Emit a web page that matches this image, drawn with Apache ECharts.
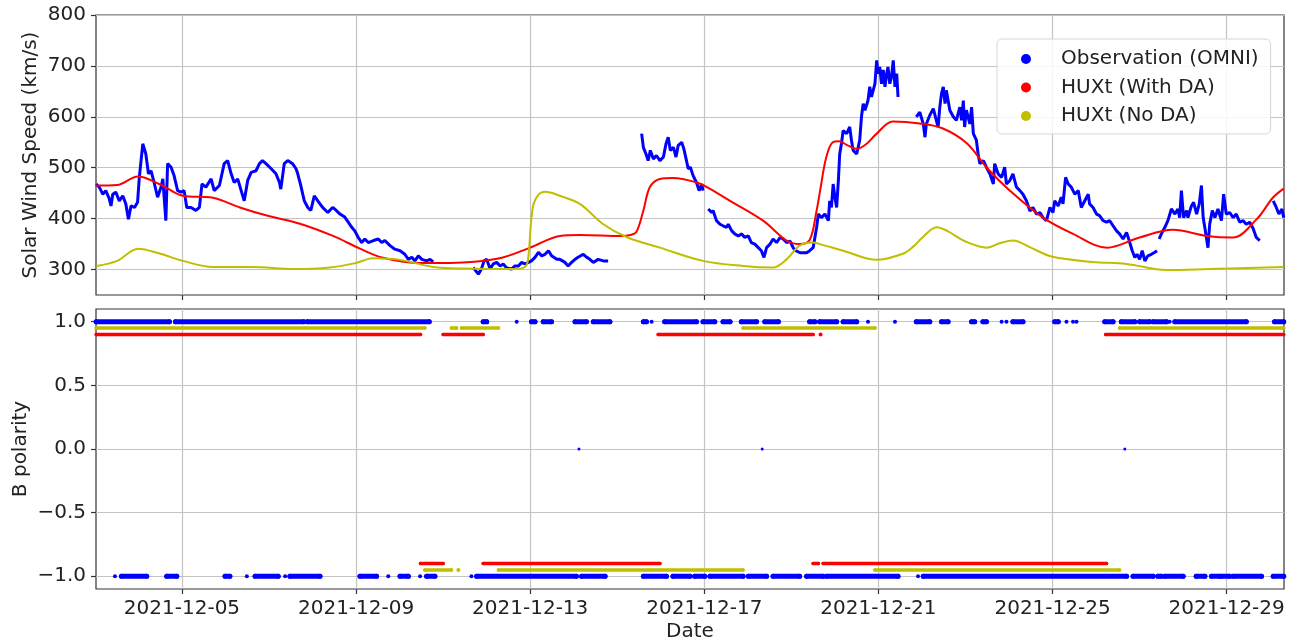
<!DOCTYPE html>
<html><head><meta charset="utf-8">
<script src="https://cdn.jsdelivr.net/npm/echarts@6/dist/echarts.min.js"></script>
<style>html,body{margin:0;padding:0;background:#fff}#c{width:1296px;height:643px}</style>
</head><body><div id="c"></div>
<script>
// x values are fractional days of December 2021
const dateTicks = ['2021-12-05','2021-12-09','2021-12-13','2021-12-17','2021-12-21','2021-12-25','2021-12-29'];
const speedTicks = [300,400,500,600,700,800];
const polarityTicks = [-1,-0.5,0,0.5,1];
const seriesNames = ['Observation (OMNI)','HUXt (With DA)','HUXt (No DA)'];

// [day, km/s]; null marks a data gap
const omniSpeed = [
[3.03,468],[3.10,462],[3.18,448],[3.25,455],[3.33,439],[3.37,425],[3.41,448],[3.48,452],[3.56,435],[3.64,445],[3.71,429],[3.77,399],[3.83,425],[3.91,422],[3.98,432],
[4.02,481],[4.10,547],[4.17,527],[4.23,488],[4.29,494],[4.36,471],[4.44,442],[4.52,462],[4.56,478],[4.59,442],[4.63,396],[4.67,508],[4.75,501],[4.82,484],[4.90,455],[4.98,452],
[5.05,455],[5.11,422],[5.21,422],[5.32,416],[5.40,422],[5.46,468],[5.55,462],[5.67,478],[5.74,455],[5.86,465],[5.97,508],
[6.05,514],[6.13,488],[6.20,471],[6.28,478],[6.36,455],[6.43,435],[6.51,475],[6.59,491],[6.70,494],[6.78,508],[6.85,514],[6.93,508],
[7.05,498],[7.16,488],[7.24,471],[7.27,458],[7.35,508],[7.43,514],[7.54,508],[7.62,498],[7.66,488],[7.73,465],[7.81,435],[7.89,422],[7.96,416],
[8.04,445],[8.12,435],[8.23,422],[8.35,412],[8.46,422],[8.51,419],[8.63,409],[8.74,403],[8.82,393],[8.90,383],[8.97,376],
[9.05,363],[9.13,353],[9.20,360],[9.28,353],[9.40,357],[9.51,360],[9.59,353],[9.66,357],[9.78,347],[9.89,340],
[10.01,337],[10.12,330],[10.20,320],[10.28,324],[10.35,317],[10.43,327],[10.51,320],[10.62,317],[10.70,320],[10.77,315],
[11.2,null],
[11.69,304],[11.81,291],[11.88,301],[11.94,317],[12.00,320],[12.08,301],[12.15,311],[12.23,314],[12.31,307],[12.38,311],[12.46,303],[12.57,301],[12.65,307],[12.73,307],[12.80,314],[12.88,311],[12.96,314],[13.03,317],[13.11,324],[13.19,334],[13.26,327],[13.34,330],[13.42,337],[13.49,327],[13.61,320],[13.68,320],[13.80,314],[13.87,307],[13.95,314],[14.03,320],[14.10,324],[14.22,330],[14.30,324],[14.37,320],[14.45,314],[14.56,320],[14.68,317],[14.79,317],
[15.2,null],
[15.56,567],[15.60,540],[15.66,527],[15.71,514],[15.76,534],[15.83,517],[15.90,524],[15.98,514],[16.06,521],[16.12,547],[16.17,560],[16.22,534],[16.29,540],[16.35,521],[16.40,544],[16.48,550],[16.53,537],[16.59,514],[16.63,498],[16.68,501],[16.74,485],[16.82,471],[16.88,455],[16.94,468],[16.97,455],
[17.03,null],
[17.09,419],[17.17,412],[17.20,416],[17.28,396],[17.36,389],[17.43,386],[17.51,383],[17.55,389],[17.63,376],[17.70,370],[17.78,366],[17.86,370],[17.93,363],[18.01,366],[18.08,353],[18.16,350],[18.24,343],[18.31,337],[18.37,324],[18.43,343],[18.51,350],[18.58,360],[18.66,353],[18.74,363],[18.81,360],[18.89,353],[18.97,356],[19.04,343],[19.10,337],[19.20,333],[19.35,333],[19.42,337],[19.50,343],[19.58,383],[19.62,409],[19.69,402],[19.77,409],[19.85,396],[19.88,435],[19.92,422],[19.96,468],[20.00,442],[20.04,422],[20.08,475],[20.11,527],[20.15,547],[20.19,573],[20.27,567],[20.34,580],[20.38,554],[20.42,534],[20.50,527],[20.57,554],[20.61,600],[20.65,626],[20.69,613],[20.76,632],[20.80,659],[20.84,639],[20.92,665],[20.96,711],[20.99,685],[21.03,698],[21.07,665],[21.11,692],[21.15,659],[21.19,685],[21.22,698],[21.26,665],[21.30,678],[21.34,711],[21.38,659],[21.42,685],[21.45,639],
[21.6,null],
[21.87,600],[21.95,609],[22.03,586],[22.07,560],[22.10,586],[22.18,603],[22.26,616],[22.33,593],[22.37,580],[22.41,619],[22.45,646],[22.49,659],[22.53,626],[22.56,652],[22.64,613],[22.72,600],[22.79,593],[22.87,619],[22.91,593],[22.95,632],[22.98,580],[23.02,613],[23.10,586],[23.14,619],[23.18,567],[23.25,554],[23.29,527],[23.33,508],[23.41,514],[23.48,501],[23.56,488],[23.64,468],[23.67,508],[23.75,488],[23.83,481],[23.90,501],[23.94,468],[24.02,475],[24.09,488],[24.17,462],[24.25,455],[24.32,448],[24.40,435],[24.48,415],[24.55,422],[24.63,409],[24.71,412],[24.78,402],[24.86,396],[24.94,422],[25.01,412],[25.05,435],[25.13,425],[25.20,442],[25.24,429],[25.30,481],[25.36,468],[25.43,462],[25.51,448],[25.59,455],[25.66,422],[25.74,435],[25.82,448],[25.85,429],[25.93,422],[26.01,409],[26.08,406],[26.16,396],[26.24,393],[26.31,396],[26.39,386],[26.47,376],[26.54,370],[26.62,360],[26.70,373],[26.76,357],[26.83,337],[26.89,324],[26.94,330],[27.00,320],[27.06,337],[27.12,317],[27.19,327],[27.27,330],[27.35,334],[27.40,337],
[27.42,null],
[27.45,360],[27.50,370],[27.58,383],[27.65,396],[27.73,419],[27.81,409],[27.88,419],[27.92,402],[27.96,455],[28.01,402],[28.08,416],[28.11,402],[28.19,425],[28.24,432],[28.31,409],[28.37,429],[28.42,465],[28.46,402],[28.51,376],[28.57,343],[28.61,389],[28.67,416],[28.73,402],[28.80,419],[28.88,396],[28.93,448],[28.99,409],[29.07,412],[29.15,402],[29.22,409],[29.30,393],[29.38,396],[29.45,389],[29.53,393],[29.61,380],[29.68,363],[29.76,357],
[29.9,null],
[30.07,435],[30.14,422],[30.20,409],[30.27,419],[30.31,402]
];

const withDaSpeed = [
[3.03,465],[3.51,466],[3.99,483],[4.50,467],[5.02,445],[5.71,441],[6.33,422],[6.95,406],[7.71,390],[8.47,366],[9.09,341],[9.62,323],[10.40,313],[11.16,313],[12.24,321],[13.00,343],[13.68,366],[14.15,368],[15.10,366],[15.30,368],[15.44,374],[15.60,416],[15.75,462],[15.98,478],[16.28,480],[16.83,471],[17.10,460],[17.59,435],[18.35,396],[18.89,357],[19.19,350],[19.42,358],[19.58,416],[19.66,455],[19.80,520],[19.95,550],[20.10,552],[20.27,545],[20.50,537],[20.70,545],[20.96,567],[21.33,591],[21.95,587],[22.48,577],[23.03,548],[23.49,500],[24.02,455],[24.78,402],[25.47,370],[26.25,343],[27.00,363],[27.76,378],[28.54,366],[29.14,363],[29.69,399],[30.06,441],[30.31,459]
];

const noDaSpeed = [
[3.03,307],[3.51,317],[3.99,341],[4.50,331],[5.02,317],[5.71,305],[6.63,305],[7.55,301],[8.40,304],[9.00,313],[9.39,322],[10.01,319],[10.77,305],[11.50,302],[12.61,301],[12.88,305],[12.95,320],[13.06,422],[13.20,448],[13.35,453],[13.68,445],[14.14,429],[14.68,389],[15.21,364],[15.98,343],[16.97,317],[17.89,307],[18.58,304],[18.89,320],[19.19,347],[19.50,353],[19.65,350],[20.19,337],[20.96,319],[21.56,331],[21.80,345],[22.00,362],[22.34,383],[22.60,375],[23.00,355],[23.49,343],[23.80,352],[24.09,357],[24.50,343],[25.00,325],[25.92,315],[26.70,311],[27.62,299],[28.61,301],[30.31,305]
];

// polarity runs: [startDay, endDay, polarity]
const omniPolarity = [
[3.03,4.71,1],[4.85,7.80,1],[7.88,10.68,1],[11.92,12.00,1],[12.69,12.69,1],[13.03,13.11,1],[13.30,13.49,1],[14.03,14.29,1],[14.45,14.83,1],[15.60,15.67,1],[15.79,15.79,1],[16.09,16.82,1],[16.97,17.24,1],[17.43,17.59,1],[17.85,18.20,1],[18.39,18.70,1],[19.42,19.54,1],[19.65,20.04,1],[20.19,20.50,1],[20.76,20.76,1],[21.38,21.38,1],[21.87,22.18,1],[22.45,22.60,1],[23.14,23.21,1],[23.40,23.48,1],[23.83,23.83,1],[23.94,23.94,1],[24.09,24.32,1],[25.05,25.13,1],[25.32,25.32,1],[25.47,25.47,1],[25.55,25.55,1],[26.20,26.39,1],[26.58,26.89,1],[27.00,27.23,1],[27.31,27.62,1],[27.69,27.69,1],[27.81,29.45,1],[30.10,30.31,1],
[14.12,14.12,0],[18.33,18.33,0],[26.66,26.66,0],
[3.46,3.46,-1],[3.61,4.19,-1],[4.65,4.88,-1],[5.99,6.10,-1],[6.49,6.49,-1],[6.68,7.21,-1],[7.37,7.37,-1],[7.48,8.17,-1],[9.09,9.47,-1],[9.74,9.74,-1],[10.01,10.20,-1],[10.47,10.47,-1],[10.62,10.81,-1],[11.65,11.65,-1],[11.77,14.06,-1],[14.18,14.72,-1],[15.60,16.13,-1],[16.28,16.67,-1],[16.78,17.01,-1],[17.13,17.89,-1],[18.01,18.43,-1],[18.58,19.19,-1],[19.35,19.73,-1],[19.81,21.45,-1],[21.91,21.91,-1],[22.03,26.70,-1],[26.85,27.31,-1],[27.42,27.50,-1],[27.58,28.00,-1],[28.30,28.50,-1],[28.65,28.84,-1],[28.88,29.07,-1],[29.15,29.80,-1],[30.07,30.31,-1]
];
const withDaPolarity = [
[3.03,10.48,1],[11.00,11.92,1],[15.94,19.50,1],[19.67,19.67,1],[26.22,30.31,1],
[10.48,11.00,-1],[11.92,15.98,-1],[19.50,19.62,-1],[19.73,26.24,-1]
];
const noDaPolarity = [
[3.03,10.58,1],[11.19,11.31,1],[11.42,12.27,1],[17.89,20.92,1],[26.54,30.31,1],
[10.58,11.19,-1],[11.35,11.35,-1],[12.27,17.89,-1],[20.92,26.54,-1]
];

const COL = {omni:'#0000ff', da:'#ff0000', noda:'#bfbf00'};
const TXT = '#222';
const FONT = 'DejaVu Sans';
const tickDays = dateTicks.map(s => Number(s.slice(8)));
const xMin = 3.025, xMax = 30.317;

function runsToData(runs, scale) {
  const out = [];
  runs.forEach(([a, b, p]) => {
    if (a === b) {
      out.push({value: [a, p * scale], symbolSize: p === 0 ? 3 : 4});
    } else {
      out.push([a, p * scale]);
      out.push([b, p * scale]);
    }
    out.push([b, null]);
  });
  return out;
}

const gridLine = {show: true, lineStyle: {color: '#c4c4c4', width: 1.2}};
const tickStyle = {show: true, length: 5, lineStyle: {color: '#333', width: 1.2}};

function xAxis(idx, withLabels) {
  const ax = {
    type: 'value', gridIndex: idx, min: xMin, max: xMax, position: 'bottom',
    axisLine: {show: false, onZero: false},
    axisTick: Object.assign({customValues: tickDays}, tickStyle),
    splitLine: gridLine,
    axisLabel: {
      show: withLabels, customValues: tickDays, fontSize: 20, color: TXT, fontFamily: FONT, margin: 10,
      formatter: v => dateTicks[tickDays.indexOf(Math.round(v))] || ''
    }
  };
  if (withLabels) {
    ax.name = 'Date'; ax.nameLocation = 'middle'; ax.nameGap = 33; ax.nameMoveOverlap = false;
    ax.nameTextStyle = {fontSize: 20, color: TXT, fontFamily: FONT};
  }
  return ax;
}

const option = {
  animation: false,
  textStyle: {fontFamily: FONT},
  grid: [
    {left: 96, right: 12, top: 15, height: 280, show: true, borderColor: '#333', borderWidth: 1.2, backgroundColor: 'transparent'},
    {left: 96, right: 12, top: 309, height: 281, show: true, borderColor: '#333', borderWidth: 1.2, backgroundColor: 'transparent'}
  ],
  xAxis: [xAxis(0, false), xAxis(1, true)],
  yAxis: [
    {type: 'value', gridIndex: 0, min: 250, max: 800, position: 'left',
     axisLine: {show: false, onZero: false}, axisTick: Object.assign({customValues: speedTicks}, tickStyle), splitLine: gridLine,
     axisLabel: {customValues: speedTicks, fontSize: 20, color: TXT, fontFamily: FONT, margin: 10},
     name: 'Solar Wind Speed (km/s)', nameLocation: 'middle', nameGap: 55, nameMoveOverlap: false,
     nameTextStyle: {fontSize: 20, color: TXT, fontFamily: FONT}},
    {type: 'value', gridIndex: 1, min: -1.1, max: 1.1, position: 'left',
     axisLine: {show: false, onZero: false}, axisTick: Object.assign({customValues: polarityTicks}, tickStyle), splitLine: gridLine,
     axisLabel: {customValues: polarityTicks, fontSize: 20, color: TXT, fontFamily: FONT, margin: 10,
       formatter: v => v.toFixed(1).replace('-', '\u2212')},
     name: 'B polarity', nameLocation: 'middle', nameGap: 65, nameMoveOverlap: false,
     nameTextStyle: {fontSize: 20, color: TXT, fontFamily: FONT}}
  ],
  legend: {
    data: seriesNames, orient: 'vertical', left: 997, top: 39,
    icon: 'circle', itemWidth: 60, itemHeight: 10, itemGap: 6.5,
    padding: [9, 12, 7, 24],
    borderColor: '#d6d6d6', borderWidth: 1, borderRadius: 5,
    backgroundColor: 'rgba(255,255,255,0.85)',
    textStyle: {fontSize: 20, color: TXT, fontFamily: FONT, lineHeight: 22}
  },
  series: [
    {type: 'line', name: seriesNames[0], xAxisIndex: 0, yAxisIndex: 0, data: omniSpeed,
     showSymbol: false, connectNulls: false, color: COL.omni, lineStyle: {color: COL.omni, width: 3}},
    {type: 'line', name: seriesNames[1], xAxisIndex: 0, yAxisIndex: 0, data: withDaSpeed,
     showSymbol: false, smooth: 0.35, color: COL.da, lineStyle: {color: COL.da, width: 2}},
    {type: 'line', name: seriesNames[2], xAxisIndex: 0, yAxisIndex: 0, data: noDaSpeed,
     showSymbol: false, smooth: 0.35, color: COL.noda, lineStyle: {color: COL.noda, width: 2}},
    {type: 'line', name: seriesNames[0], xAxisIndex: 1, yAxisIndex: 1, data: runsToData(omniPolarity, 1.0),
     symbol: 'circle', symbolSize: 5, showSymbol: true, showAllSymbol: true, connectNulls: false,
     color: COL.omni, itemStyle: {color: COL.omni}, lineStyle: {color: COL.omni, width: 5, cap: 'round'}},
    {type: 'line', name: seriesNames[1], xAxisIndex: 1, yAxisIndex: 1, data: runsToData(withDaPolarity, 0.9),
     symbol: 'circle', symbolSize: 3.5, showSymbol: true, showAllSymbol: true, connectNulls: false,
     color: COL.da, itemStyle: {color: COL.da}, lineStyle: {color: COL.da, width: 3.5, cap: 'round'}},
    {type: 'line', name: seriesNames[2], xAxisIndex: 1, yAxisIndex: 1, data: runsToData(noDaPolarity, 0.95),
     symbol: 'circle', symbolSize: 3.5, showSymbol: true, showAllSymbol: true, connectNulls: false,
     color: COL.noda, itemStyle: {color: COL.noda}, lineStyle: {color: COL.noda, width: 3.5, cap: 'round'}}
  ]
};

const chart = echarts.init(document.getElementById('c'), null, {renderer: 'canvas'});
chart.setOption(option);
</script>
</body></html>
